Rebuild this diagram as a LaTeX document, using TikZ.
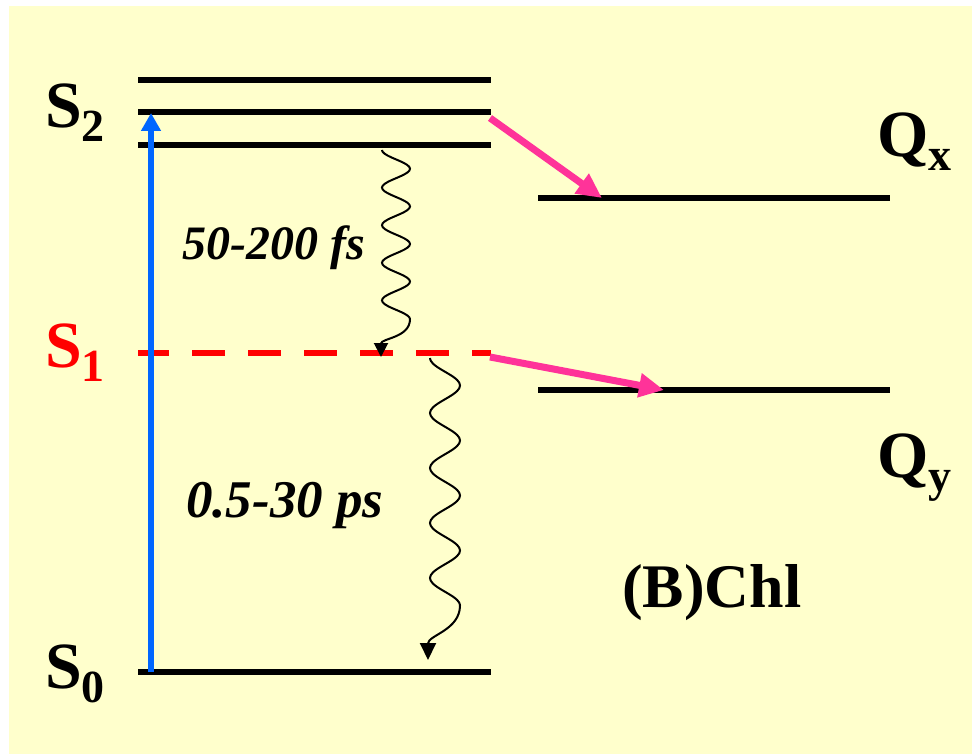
\documentclass[tikz,border=0pt]{standalone}
\usepackage{fontspec}
\setmainfont{Liberation Serif}
\usetikzlibrary{arrows.meta}
\definecolor{bgyellow}{HTML}{FFFFCC}
\definecolor{pumpblue}{HTML}{0066FF}
\definecolor{ctpink}{HTML}{FF3399}
\newcommand{\lvl}[2]{#1\raisebox{-14pt}{\fontsize{46}{46}\selectfont #2}}

\begin{document}
\begin{tikzpicture}[x=1pt,y=-1pt,
  level/.style={line width=6pt},
  lbl/.style={inner sep=0pt,anchor=base west,font=\fontsize{66}{66}\selectfont\bfseries},
  time/.style={inner sep=0pt,anchor=base west,font=\fontsize{48}{48}\selectfont\bfseries\itshape},
  pump/.style={pumpblue,line width=6pt,-{Triangle[width=19pt,length=18pt]}},
  transfer/.style={ctpink,line width=7pt,-{Triangle[width=23pt,length=25pt]}},
  relax/.style={line width=2pt,-{Triangle[width=14pt,length=14pt]}}]
\useasboundingbox (0,0) rectangle (972,754);
\fill[bgyellow] (9,6) rectangle (972,754);
% levels
\draw[level] (138,80) -- (491,80);
\draw[level] (138,112) -- (491,112);
\draw[level] (138,145) -- (491,145);
\draw[level,red,dash pattern=on 33pt off 23pt,dash phase=2pt] (138,353) -- (491,353);
\draw[level] (138,672) -- (491,672);
\draw[level] (538,198) -- (890,198);
\draw[level] (538,390) -- (890,390);
% labels
\node[lbl] (S2) at (45,128) {\lvl{S}{2}};
\node[lbl,red] (S1) at (45,367) {\lvl{S}{1}};
\node[lbl] (S0) at (45,688) {\lvl{S}{0}};
\node[lbl] (Qx) at (877,157) {\lvl{Q}{x}};
\node[lbl] (Qy) at (877,477) {\lvl{Q}{y}};
\node[time] (t1) at (182,260) {50-200 fs};
\node[time,font=\fontsize{53}{53}\selectfont\bfseries\itshape] (t2) at (186,517) {0.5-30 ps};
\node[lbl,font=\fontsize{62}{62}\selectfont\bfseries] (chl) at (622,607) {(B)Chl};
% transitions
\coordinate (pumpS) at (151,672);
\coordinate (pumpE) at (151,113);
\coordinate (ctS2) at (490,118);
\coordinate (ctQx) at (602,198);
\coordinate (ctS1) at (490,357);
\coordinate (ctQy) at (664,390);
\coordinate (w1end) at (381,357);
\coordinate (w2end) at (428,660);
\draw[pump] (pumpS) -- (pumpE);
\draw[transfer] (ctS2) -- (ctQx);
\draw[transfer] (ctS1) -- (ctQy);
\draw[relax] plot[domain=0:4.5,samples=91,smooth] ({396-14*cos(360*\x)},{150+37.6*\x})
  to[out=-90,in=90] (w1end);
\draw[relax,-{Triangle[width=16pt,length=17pt]}] plot[domain=0:4.5,samples=91,smooth] ({445-15*cos(360*\x)},{358+55*\x})
  to[out=-90,in=90] (w2end);
\end{tikzpicture}
\end{document}
